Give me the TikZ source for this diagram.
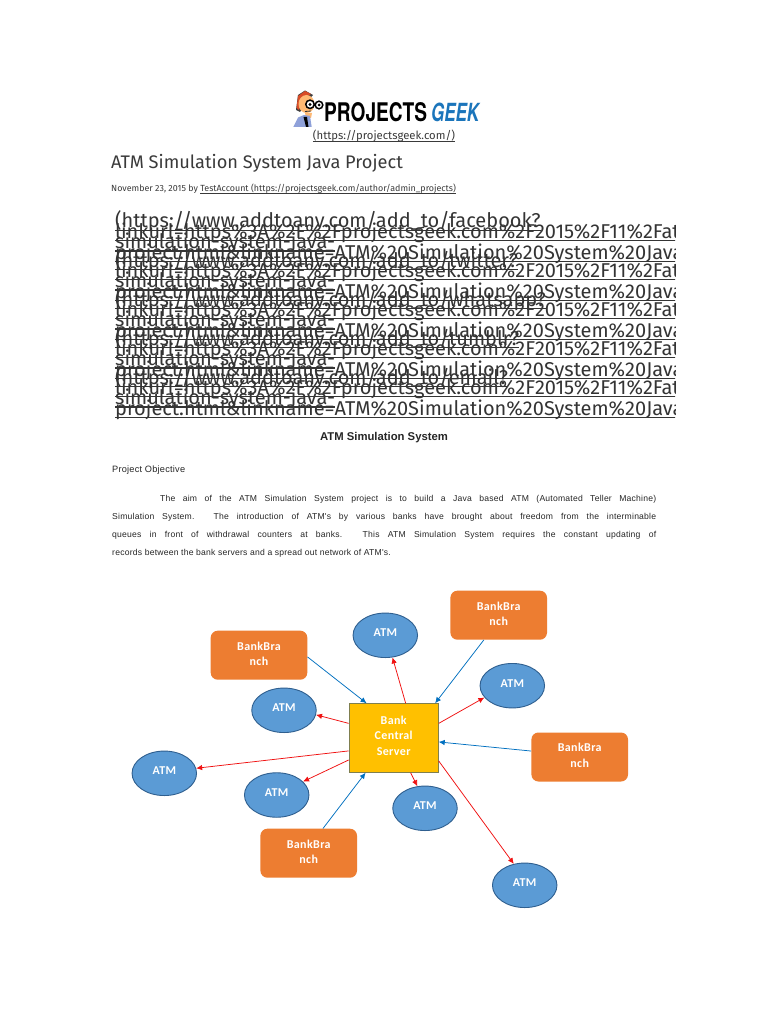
\documentclass[tikz,border=0pt]{standalone}
\usepackage{fontspec}
\usepackage{graphicx}
\usetikzlibrary{arrows.meta,shapes.geometric}
\setmainfont{Fira Sans}
\newfontfamily\arialf[LetterSpace=2.5]{Liberation Sans}
\newfontfamily\arialb{Liberation Sans}
\newfontfamily\carl[LetterSpace=3]{Carlito}
\newfontfamily\heros{TeX Gyre Heros}
\definecolor{txt}{HTML}{3A3A3A}
\definecolor{orangebox}{HTML}{ED7D31}
\definecolor{atmblue}{HTML}{5B9BD5}
\definecolor{atmedge}{HTML}{2F5F8F}
\definecolor{srvfill}{HTML}{FFC000}
\definecolor{srvedge}{HTML}{7F7F4F}
\definecolor{arrred}{HTML}{F01010}
\definecolor{arrblue}{HTML}{0070C0}
\definecolor{geekblue}{HTML}{1B75BB}
\newcommand\ulx[3]{\setbox0\hbox{#3}\rlap{\copy0}\rule[#1]{\wd0}{#2}}
\newcommand\sz[1]{\fontsize{#1}{#1}\selectfont}
\tikzset{
  tx/.style={inner sep=0pt,anchor=base west,text=txt},
  tc/.style={inner sep=0pt,anchor=base,text=txt},
  urlline/.style={inner sep=0pt,anchor=base west,text=txt!90!black,font=\sz{20}},
  para/.style={inner sep=0pt,anchor=base west,text=black!85,font=\arialf\sz{8.6}},
  lab/.style={inner sep=0pt,text=white,align=center,font=\carl\bfseries\sz{12},execute at begin node={\setlength{\baselineskip}{15.5pt}}},
  branch/.style={fill=orangebox,draw=none,rounded corners=7pt,minimum width=96.6pt,minimum height=49pt,inner sep=0pt},
  atm/.style={ellipse,fill=atmblue,draw=atmedge,line width=.9pt,minimum width=64.5pt,minimum height=44.5pt,inner sep=0pt,text=white,font=\carl\bfseries\sz{12}},
  server/.style={fill=srvfill,draw=srvedge,line width=1pt,minimum width=89pt,minimum height=68.5pt,inner sep=0pt},
  redarrow/.style={draw=arrred,line width=.75pt,-{Latex[length=6pt,width=5.5pt]}},
  bluearrow/.style={draw=arrblue,line width=.75pt,-{Latex[length=6pt,width=5.5pt]}},
}
\newcommand\atmtext{\raisebox{-1.6pt}[0pt][0pt]{ATM}}
\begin{document}
\begin{tikzpicture}[x=1pt,y=-1pt]
\useasboundingbox (0,0) rectangle (768,1024);
\fill[white] (0,0) rectangle (768,1024);
% logo
\fill[black!75] (296,110) -- (298,95) -- (305,90.5) -- (313,95) -- (308,100) -- (300,112) -- cycle;
\fill[red!40!brown] (296.5,108) -- (298,96) -- (305,91) -- (311,94) -- (303,99) -- (299,110) -- cycle;
\fill[orange!55!white] (306.5,104) ellipse (8pt and 9pt);
\fill[orange!55!white] (305,113) -- (312,113) -- (311,118) -- (306,118) -- cycle;
\fill[cyan!35!blue!45!white] (293.3,127) -- (298,117.5) -- (304,115) -- (310,116) -- (311.7,127) -- cycle;
\fill[black] (303.5,117) -- (306,127) -- (308.5,127) -- (307,117) -- cycle;
\draw[black,line width=1.5pt,fill=white] (310,104.3) circle (4.2pt) (319,105) circle (3.8pt);
\fill[black] (310,104.5) circle (1.6pt) (319,105) circle (1.5pt);
\draw[black!80,line width=.8pt] (305,111.5) -- (311,111);
\node[inner sep=0pt,anchor=south west,text=black] (logoa) at (324,122.5) {\resizebox{103pt}{19pt}{\heros\bfseries\textbf{PROJECTS}}};
\node[inner sep=0pt,anchor=south west,text=geekblue] (logob) at (431,122) {\resizebox{48pt}{18.5pt}{\heros\bfseries\itshape GEEK}};
% header
\node[tc,font=\sz{11.3}] (home) at (384,140) {\ulx{-1.6pt}{.6pt}{(https://projectsgeek.com/)}};
\node[tx,font=\sz{18.2}] (title) at (111,169) {ATM Simulation System Java Project};
\node[tx,font=\sz{8.9}] (date) at (111,192) {November 23, 2015 by \ulx{-1.5pt}{.6pt}{TestAccount (https://projectsgeek.com/author/admin\_projects)}};
% share links
\begin{scope}
\clip (100,205) rectangle (675,425);
\foreach \yy/\svc in {228/facebook,267/twitter,306/whatsapp,345/tumblr,384/email}{
  \node[urlline] at (115,\yy) {\ulx{-3pt}{1.4pt}{(https://www.addtoany.com/add\_to/\svc?}};
  \node[urlline] at (115,\yy+10.3) {\ulx{-3pt}{1.4pt}{linkurl=https\%3A\%2F\%2Fprojectsgeek.com\%2F2015\%2F11\%2Fatm-}};
  \node[urlline] at (115,\yy+20.6) {\ulx{-3pt}{1.4pt}{simulation-system-java-}};
  \node[urlline] at (115,\yy+31) {\ulx{-3pt}{1.4pt}{project.html\&linkname=ATM\%20Simulation\%20System\%20Java\%20Project}};
}
\end{scope}
% body text
\node[tc,text=black!85,font=\arialb\bfseries\sz{11.3}] (head) at (384,440) {ATM Simulation System};
\node[para,font=\arialf\sz{9.2}] (obj) at (112,472) {Project Objective};
\node[para] (p1) at (160,501) {\makebox[496pt][s]{The aim of the ATM Simulation System project is to build a Java based ATM (Automated Teller Machine)}};
\node[para] (p2) at (112,519) {\makebox[544pt][s]{Simulation System. The introduction of ATM's by various banks have brought about freedom from the interminable}};
\node[para] (p3) at (112,537) {\makebox[544pt][s]{queues in front of withdrawal counters at banks. This ATM Simulation System requires the constant updating of}};
\node[para] (p4) at (112,555) {records between the bank servers and a spread out network of ATM's.};
% diagram
\node[server,label={[lab,yshift=2.6pt]center:{Bank\\Central\\Server}}] (srv) at (393.7,738) {};
\node[branch,label={[lab,yshift=1.5pt]center:{BankBra\\nch}}] (b1) at (259,655.2) {};
\node[branch,label={[lab,yshift=1.5pt]center:{BankBra\\nch}}] (b2) at (498.7,615.2) {};
\node[branch,label={[lab,yshift=1.5pt]center:{BankBra\\nch}}] (b3) at (579.7,757) {};
\node[branch,label={[lab,yshift=1.5pt]center:{BankBra\\nch}}] (b4) at (308.7,853.2) {};
\node[atm] (a1) at (385.3,635.3) {\atmtext};
\node[atm] (a2) at (512.3,685.7) {\atmtext};
\node[atm] (a3) at (284,710.3) {\atmtext};
\node[atm] (a4) at (164.3,773.3) {\atmtext};
\node[atm] (a5) at (276.7,795) {\atmtext};
\node[atm] (a6) at (425,808.3) {\atmtext};
\node[atm] (a7) at (524.7,885.3) {\atmtext};
\draw[bluearrow] (b1.-2.9) -- (srv.128.7);
\draw[bluearrow] (b2.239.4) -- (srv.40.7);
\draw[bluearrow] (b3.173.3) -- (srv.-5);
\draw[bluearrow] (b4.60.3) -- (srv.-129);
\draw[redarrow] (srv.71.4) -- (a1.-72.6);
\draw[redarrow] (srv.18.8) -- (a2.203.6);
\draw[redarrow] (srv.162) -- (a3.-8.5);
\draw[redarrow] (srv.196.6) -- (a4.9.3);
\draw[redarrow] (srv.206.9) -- (a5.27);
\draw[redarrow] (srv.-64.8) -- (a6.109.4);
\draw[redarrow] (srv.-27.6) -- (a7.117);
\end{tikzpicture}
\end{document}
